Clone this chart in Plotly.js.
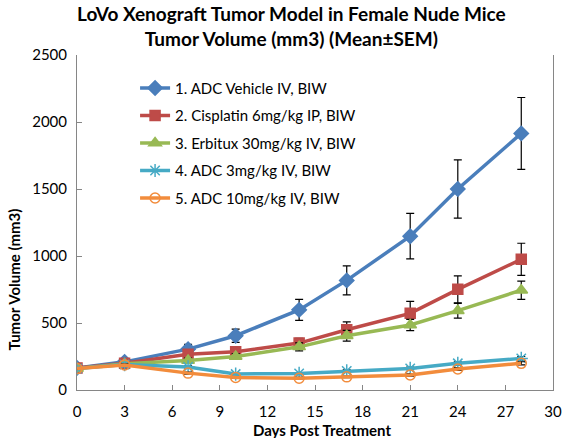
<!DOCTYPE html>
<html>
<head>
<meta charset="utf-8">
<script src="https://cdn.plot.ly/plotly-3.0.1.min.js"></script>
<style>
  html, body { margin: 0; padding: 0; background: #fff; }
  #chart { width: 580px; height: 438px; }
</style>
</head>
<body>
<div id="chart"></div>
<script>
var days = [0, 3, 7, 10, 14, 17, 21, 24, 28];

var seriesNames = [
    "1. ADC Vehicle IV, BIW",
    "2. Cisplatin 6mg/kg IP, BIW",
    "3. Erbitux 30mg/kg IV, BIW",
    "4. ADC 3mg/kg IV, BIW",
    "5. ADC 10mg/kg IV, BIW"
];

var vehicleMean = [165, 210, 305, 405, 598, 818, 1148, 1500, 1915];
var vehicleSem = [10, 15, 35, 50, 78, 108, 170, 218, 268];

var cisplatinMean = [165, 200, 266, 286, 350, 450, 572, 751, 975];
var cisplatinSem = [10, 12, 22, 28, 35, 58, 90, 100, 120];

var erbituxMean = [160, 195, 220, 250, 322, 405, 485, 592, 745];
var erbituxSem = [8, 10, 18, 22, 30, 40, 42, 55, 68];

var adc3Mean = [160, 190, 172, 119, 124, 142, 161, 199, 236];
var adc3Sem = [6, 8, 8, 6, 6, 8, 10, 12, 14];

var adc10Mean = [160, 187, 126, 94, 88, 98, 112, 157, 199];
var adc10Sem = [6, 8, 8, 6, 6, 6, 8, 10, 12];

var textFont = "Lato, 'Open Sans', sans-serif";

var styles = [
    { color: "#4A7EBB", symbol: "diamond", size: 11 },
    { color: "#BE4B48", symbol: "square", size: 10 },
    { color: "#98B954", symbol: "triangle-up", size: 11 },
    { color: "#46AAC5", symbol: "asterisk-open", size: 11 },
    { color: "#F28C3C", symbol: "circle-open", size: 10 }
];

var means = [vehicleMean, cisplatinMean, erbituxMean, adc3Mean, adc10Mean];
var sems = [vehicleSem, cisplatinSem, erbituxSem, adc3Sem, adc10Sem];

var data = [];
for (var i = 0; i < means.length; i++) {
    var s = styles[i];
    data.push({
        x: days,
        y: means[i],
        name: seriesNames[i],
        legendgroup: "g" + i,
        type: "scatter",
        mode: "lines+markers",
        line: { color: s.color, width: 3.5 },
        marker: {
            symbol: s.symbol,
            size: s.size,
            color: s.color,
            line: { color: s.color, width: 1.5 }
        },
        error_y: {
            type: "data",
            array: sems[i],
            visible: true,
            color: "#000000",
            thickness: 1.2,
            width: 4
        }
    });
}

var layout = {
    width: 580,
    height: 438,
    paper_bgcolor: "#ffffff",
    plot_bgcolor: "#ffffff",
    margin: { t: 55, r: 27, b: 48, l: 77 },
    font: { family: textFont, size: 15, color: "#000000" },
    showlegend: true,
    legend: {
        x: 0.122,
        y: 0.95,
        xanchor: "left",
        yanchor: "top",
        bgcolor: "rgba(0,0,0,0)",
        font: { family: textFont, size: 15, color: "#000000" },
        traceorder: "grouped",
        tracegroupgap: 5,
        itemwidth: 30
    },
    xaxis: {
        range: [0, 30],
        tickvals: [0, 3, 6, 9, 12, 15, 18, 21, 24, 27, 30],
        ticks: "inside",
        ticklen: 5,
        tickcolor: "#868686",
        showline: true,
        linecolor: "#868686",
        linewidth: 1,
        showgrid: false,
        zeroline: false,
        tickfont: { family: textFont, size: 15 },
        ticklabelstandoff: 8,
        fixedrange: true
    },
    yaxis: {
        range: [0, 2500],
        tickvals: [0, 500, 1000, 1500, 2000, 2500],
        ticks: "inside",
        ticklen: 5,
        tickcolor: "#868686",
        showline: true,
        mirror: true,
        linecolor: "#868686",
        linewidth: 1,
        showgrid: false,
        zeroline: false,
        tickfont: { family: textFont, size: 15 },
        ticklabelstandoff: 6,
        fixedrange: true
    },
    annotations: [
        {
            text: "<b>LoVo Xenograft Tumor Model in Female Nude Mice</b><br><b>Tumor Volume (mm3) (Mean±SEM)</b>",
            xref: "paper", yref: "paper",
            x: 0.45, y: 1.0, yshift: 3,
            xanchor: "center", yanchor: "bottom",
            showarrow: false,
            font: { family: textFont, size: 19 },
            align: "center"
        },
        {
            text: "<b>Tumor Volume (mm3)</b>",
            xref: "paper", yref: "paper",
            x: 0, xshift: -63,
            y: 0.33,
            xanchor: "center", yanchor: "middle",
            textangle: -90,
            showarrow: false,
            font: { family: textFont, size: 15 }
        },
        {
            text: "<b>Days Post Treatment</b>",
            xref: "paper", yref: "paper",
            x: 0.515, y: 0, yshift: -40,
            xanchor: "center", yanchor: "middle",
            showarrow: false,
            font: { family: textFont, size: 15 }
        }
    ]
};

Plotly.newPlot("chart", data, layout, { displayModeBar: false, staticPlot: true });
</script>
</body>
</html>
